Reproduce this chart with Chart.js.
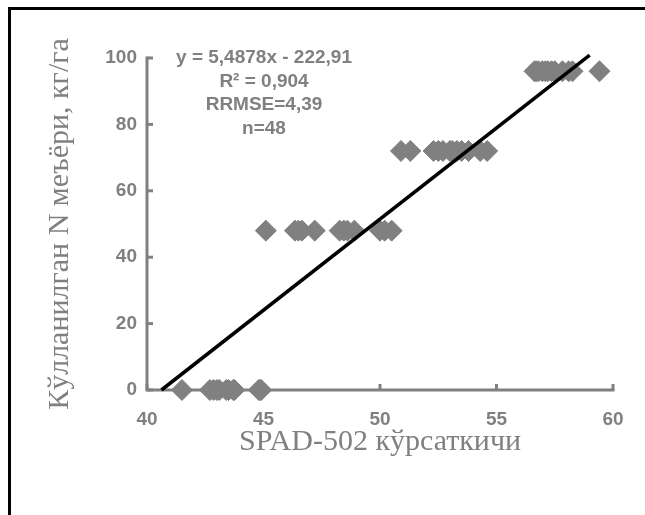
<!DOCTYPE html>
<html>
<head>
<meta charset="utf-8">
<script src="https://cdn.jsdelivr.net/npm/chart.js@4/dist/chart.umd.min.js"></script>
<style>
html,body{margin:0;padding:0;background:#fff;}
#wrap{position:relative;width:645px;height:515px;overflow:hidden;}
#frame{position:absolute;left:8px;top:7px;width:700px;height:600px;border:3px solid #000;box-sizing:border-box;pointer-events:none;}
canvas{position:absolute;left:0;top:0;}
</style>
</head>
<body>
<div id="wrap">
<canvas id="c" width="645" height="515"></canvas>
<div id="frame"></div>
</div>
<script>
// Data
const spadRate0  = [41.5, 42.7, 42.85, 43.0, 43.1, 43.4, 43.5, 43.7, 43.75, 44.8, 44.85, 44.9];
const spadRate48 = [45.1, 46.35, 46.5, 46.65, 47.2, 48.27, 48.45, 48.6, 48.9, 50.0, 50.2, 50.5];
const spadRate72 = [50.9, 51.3, 52.3, 52.5, 52.7, 53.0, 53.1, 53.3, 53.5, 53.8, 54.3, 54.6];
const spadRate96 = [56.63, 56.7, 56.8, 56.97, 57.1, 57.2, 57.36, 57.5, 57.83, 58.1, 58.26, 59.42];
const nRates = [0, 48, 72, 96];
const trendSlope = 5.4878;
const trendIntercept = -222.91;
const trendXEnd = 59.0;
const xTicks = [40, 45, 50, 55, 60];
const yTicks = [0, 20, 40, 60, 80, 100];
const annotationLines = ['y = 5,4878x - 222,91', 'R² = 0,904', 'RRMSE=4,39', 'n=48'];
const xTitle = 'SPAD-502 кўрсаткичи';
const yTitle = 'Кўлланилган N меъёри, кг/га';

const groups = [spadRate0, spadRate48, spadRate72, spadRate96];
const scatterPts = [];
groups.forEach((g, i) => g.forEach(x => scatterPts.push({x: x, y: nRates[i]})));

const trendX0 = -trendIntercept / trendSlope;
const trendPts = [
  {x: trendX0, y: trendSlope * trendX0 + trendIntercept},
  {x: trendXEnd, y: trendSlope * trendXEnd + trendIntercept}
];

const GREY = '#808080';

const axesPlugin = {
  id: 'axesPlugin',
  beforeDatasetsDraw(chart) {
    const ctx = chart.ctx;
    const xs = chart.scales.x, ys = chart.scales.y;
    const ca = chart.chartArea;
    ctx.save();
    ctx.strokeStyle = GREY;
    ctx.lineWidth = 3;
    ctx.lineCap = 'butt';
    // axis lines
    ctx.beginPath();
    ctx.moveTo(ca.left, ys.getPixelForValue(100) - 1.5);
    ctx.lineTo(ca.left, ca.bottom);
    ctx.lineTo(xs.getPixelForValue(60) + 1.5, ca.bottom);
    ctx.stroke();
    // inward ticks
    xTicks.forEach(v => {
      const px = xs.getPixelForValue(v);
      ctx.beginPath();
      ctx.moveTo(px, ca.bottom);
      ctx.lineTo(px, ca.bottom - 6);
      ctx.stroke();
    });
    yTicks.forEach(v => {
      const py = ys.getPixelForValue(v);
      ctx.beginPath();
      ctx.moveTo(ca.left, py);
      ctx.lineTo(ca.left + 6, py);
      ctx.stroke();
    });
    ctx.restore();
  }
};

const annotation = {
  id: 'annotation',
  afterDraw(chart) {
    const ctx = chart.ctx;
    ctx.save();
    ctx.fillStyle = GREY;
    ctx.font = 'bold 19px "Liberation Sans", Arial, sans-serif';
    ctx.textAlign = 'center';
    ctx.textBaseline = 'middle';
    const cx = 264, y0 = 58, dy = 23.5;
    annotationLines.forEach((t, i) => ctx.fillText(t, cx, y0 + i * dy));
    ctx.restore();
  }
};

const tickFont = {family: '"Liberation Sans", Arial, sans-serif', size: 19, weight: 'bold'};
const titleFont = {family: '"Liberation Serif", "Times New Roman", serif', size: 30};

new Chart(document.getElementById('c'), {
  data: {
    datasets: [
      {
        type: 'line',
        data: trendPts,
        borderColor: '#000',
        borderWidth: 3.5,
        pointRadius: 0,
        fill: false,
        clip: false,
        order: 0
      },
      {
        type: 'scatter',
        data: scatterPts,
        pointStyle: 'rectRot',
        pointRadius: 10.5,
        pointBackgroundColor: GREY,
        pointBorderColor: GREY,
        pointBorderWidth: 1,
        clip: false,
        order: 1
      }
    ]
  },
  options: {
    responsive: false,
    animation: false,
    devicePixelRatio: 1,
    layout: {padding: {left: 42, right: 32, top: 58, bottom: 50}},
    plugins: {legend: {display: false}, tooltip: {enabled: false}},
    scales: {
      x: {
        type: 'linear',
        min: 40, max: 60,
        afterBuildTicks(s) { s.ticks = xTicks.map(v => ({value: v})); },
        afterFit(s) { s.height = 75; },
        grid: {display: false, drawTicks: false},
        border: {display: false},
        ticks: {color: GREY, font: tickFont, padding: 18},
        title: {display: true, text: xTitle, color: GREY, font: titleFont, padding: {top: 0, bottom: 5}}
      },
      y: {
        type: 'linear',
        min: 0, max: 100,
        afterBuildTicks(s) { s.ticks = yTicks.map(v => ({value: v})); },
        afterFit(s) { s.width = 105; },
        grid: {display: false, drawTicks: false},
        border: {display: false},
        ticks: {color: GREY, font: tickFont, padding: 10},
        title: {display: true, text: yTitle, color: GREY, font: titleFont, padding: {top: 0, bottom: 0}}
      }
    }
  },
  plugins: [axesPlugin, annotation]
});
</script>
</body>
</html>
